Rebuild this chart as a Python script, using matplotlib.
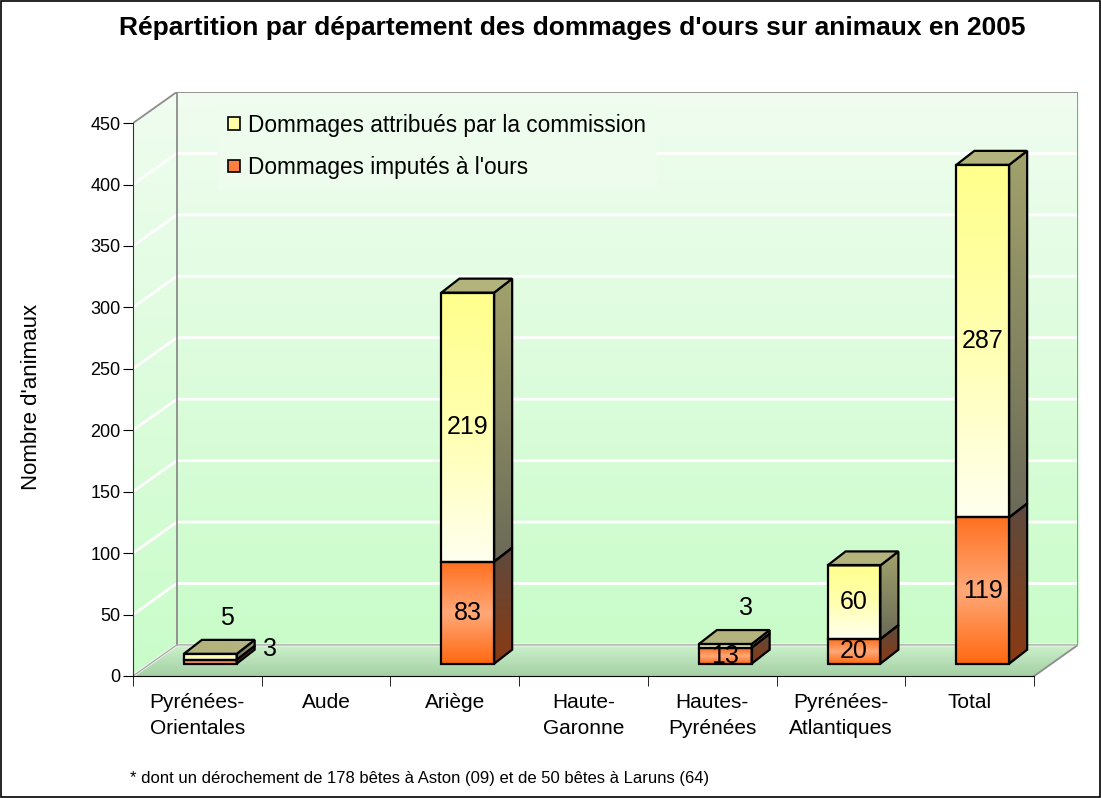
import numpy as np
import matplotlib
matplotlib.use("Agg")
import matplotlib.pyplot as plt
from matplotlib.patches import Polygon, Patch, Rectangle
from matplotlib.colors import LinearSegmentedColormap

plt.rcParams['font.family'] = ['Liberation Sans', 'DejaVu Sans']

# data
categories = ["Pyrénées-\nOrientales", "Aude", "Ariège", "Haute-\nGaronne",
              "Hautes-\nPyrénées", "Pyrénées-\nAtlantiques", "Total"]
ours = [3, 0, 83, 0, 13, 20, 119]          # Dommages imputés à l'ours
commission = [5, 0, 219, 0, 3, 60, 287]    # Dommages attribués par la commission
series_names = ["Dommages attribués par la commission", "Dommages imputés à l'ours"]
yticks = list(range(0, 451, 50))
title = "Répartition par département des dommages d'ours sur animaux en 2005"
footnote = "* dont un dérochement de 178 bêtes à Aston (09) et de 50 bêtes à Laruns (64)"

# fake 3D geometry (data units)
dxw, dyw = 0.34, 25.3     # depth of the walls
bx, bz = 0.10, 10         # where the front of the bars sits
dxb, dyb = 0.14, 11.4     # depth of a bar
bw = 0.41
xl, xr, top = -0.5, 6.5, 450


def gradient(ax, x0, x1, y0, y1, colors, clip=None, z=0):
    # vertical gradient, colors listed bottom -> top
    cmap = LinearSegmentedColormap.from_list("g", colors)
    im = ax.imshow(np.linspace(0, 1, 256).reshape(-1, 1), cmap=cmap, origin="lower",
                   extent=(x0, x1, y0, y1), aspect="auto", interpolation="bilinear", zorder=z)
    if clip is not None:
        im.set_clip_path(clip)
    return im


fig = plt.figure(figsize=(11.01, 7.98), dpi=100)
ax = fig.add_axes([133 / 1101, 122 / 798, 945 / 1101, 584 / 798])
ax.patch.set_visible(False)

# walls and floor
gradient(ax, xl + dxw, xr + dxw, dyw, top + dyw, ["#c9fdc9", "#f0fcf0"], z=0)
lw_poly = Polygon([(xl, 0), (xl + dxw, dyw), (xl + dxw, top + dyw), (xl, top)], transform=ax.transData)
gradient(ax, xl, xl + dxw, 0, top + dyw, ["#c9fdc9", "#f0fcf0"], clip=lw_poly, z=0)
floor = Polygon([(xl, 0), (xr, 0), (xr + dxw, dyw), (xl + dxw, dyw)], transform=ax.transData)
gradient(ax, xl, xr + dxw, 0, dyw, ["#a4cfa4", "#cdf3cd"], clip=floor, z=0)

for v in yticks[:-1]:
    ax.plot([xl, xl + dxw, xr + dxw], [v, v + dyw, v + dyw], color="white", lw=2, zorder=1)
ax.plot([xl, xl + dxw, xr + dxw, xr + dxw, xr], [top, top + dyw, top + dyw, dyw, 0],
        color="#8c8c8c", lw=1.3, zorder=1.2)
ax.plot([xl + dxw, xl + dxw], [dyw, top + dyw], color="#8c8c8c", lw=1.3, zorder=1.2)
ax.plot([xl, xl + dxw, xr + dxw], [0, dyw, dyw], color="#a8a8a8", lw=1, zorder=1.2)

# bars
x = np.arange(len(categories)) + bx
ours_arr = np.array(ours)
b1 = ax.bar(x, ours, bw, bottom=bz, facecolor="none", edgecolor="black", lw=1.6, zorder=3.3)
b2 = ax.bar(x, commission, bw, bottom=bz + ours_arr, facecolor="none", edgecolor="black",
            lw=1.6, zorder=3.3)

front_cols = [["#ff6810", "#ffa878", "#ff7020"], ["#fffff0", "#ffffb0", "#ffff8c"]]
side_cols = [["#8a3a12", "#5e4a3e"], ["#6a6a58", "#a2a26c"]]
top_col = "#b3b37e"

for k, bars in enumerate([b1, b2]):
    for i, r in enumerate(bars):
        h = r.get_height()
        if h == 0:
            r.set_visible(False)
            continue
        x0, y0 = r.get_x(), r.get_y()
        x1, y1 = x0 + r.get_width(), y0 + h
        gradient(ax, x0, x1, y0, y1, front_cols[k], z=3)
        side = [(x1, y0), (x1 + dxb, y0 + dyb), (x1 + dxb, y1 + dyb), (x1, y1)]
        sp = Polygon(side, transform=ax.transData)
        gradient(ax, x1, x1 + dxb, y0, y1 + dyb, side_cols[k], clip=sp, z=3)
        ax.add_patch(Polygon(side, closed=True, fill=False, edgecolor="black", lw=1.6, zorder=3.2))
        is_top = (k == 1) or commission[i] == 0
        if is_top:
            tp = [(x0, y1), (x1, y1), (x1 + dxb, y1 + dyb), (x0 + dxb, y1 + dyb)]
            ax.add_patch(Polygon(tp, closed=True, facecolor=top_col, edgecolor="black",
                                 lw=1.6, zorder=3.2))

# value labels (small segments get pushed aside, like in the original)
label_offsets = {(0, 0): (43, 9), (1, 0): (12, 28), (1, 4): (15, 27)}
for k, (bars, vals) in enumerate([(b1, ours), (b2, commission)]):
    for i, (r, v) in enumerate(zip(bars, vals)):
        if v == 0:
            continue
        cx = r.get_x() + r.get_width() / 2
        cy = r.get_y() + r.get_height() / 2
        off = label_offsets.get((k, i), (0, 0))
        ax.annotate(str(v), (cx, cy), xytext=off, textcoords="offset points",
                    ha="center", va="center", fontsize=18, zorder=6)

# axes
ax.set_xlim(xl, xr + dxw)
ax.set_ylim(0, top + dyw)
for s in ["top", "right"]:
    ax.spines[s].set_visible(False)
ax.spines["left"].set_bounds(0, top)
ax.spines["bottom"].set_bounds(xl, xr)
ax.spines["left"].set_color("#333333")
ax.spines["left"].set_zorder(2)
ax.spines["bottom"].set_zorder(2)
ax.set_yticks(yticks)
ax.tick_params(axis="y", length=7, direction="out", labelsize=13, pad=2)
ax.set_xticks(range(len(categories)))
ax.set_xticklabels(categories, fontsize=15, linespacing=1.5)
ax.set_xticks(np.arange(xl, xr + 0.01, 1), minor=True)
ax.tick_params(axis="x", which="major", length=0, pad=12)
ax.tick_params(axis="x", which="minor", length=7, direction="out")

handles = [Patch(facecolor="#ffffa8", edgecolor="black", lw=1.2),
           Patch(facecolor="#ff7f40", edgecolor="black", lw=1.2)]
leg = ax.legend(handles, series_names, loc="upper left", bbox_to_anchor=(0.089, 0.982),
                borderaxespad=0, frameon=True, fancybox=False, facecolor="#edfced",
                edgecolor="none", framealpha=1, fontsize=16.3, handlelength=0.5,
                handleheight=0.5, handletextpad=0.36, labelspacing=0.85, borderpad=0.5)
leg.set_zorder(1.1)

fig.text(0.52, 0.965, title, ha="center", va="center", fontsize=19, fontweight="bold")
fig.text(32 / 1101, 1 - 397 / 798, "Nombre d'animaux", rotation=90, ha="center", va="center",
         fontsize=16)
fig.text(130 / 1101, 1 - 778 / 798, footnote, ha="left", va="center", fontsize=12)
fig.patches.append(Rectangle((0.001, 0.001), 0.998, 0.998, transform=fig.transFigure,
                             fill=False, edgecolor="black", lw=1.2))

fig.savefig("out.png", dpi=100)
